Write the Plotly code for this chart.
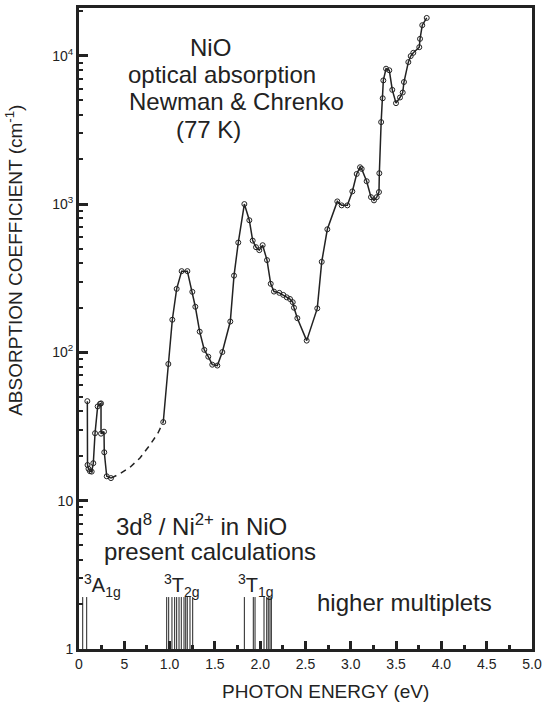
import plotly.graph_objects as go

# ---- data ----
spike_energy = [0.092, 0.094, 0.105, 0.121, 0.140, 0.158, 0.177, 0.206, 0.232, 0.243,
                0.243, 0.276, 0.279, 0.306, 0.353]
spike_alpha = [46.9, 17.4, 16.4, 15.8, 15.7, 17.9, 28.5, 43.2, 45.0, 45.3,
               28.3, 29.2, 21.2, 14.6, 14.2]

dash_energy = [0.353, 0.453, 0.563, 0.673, 0.784, 0.872, 0.930]
dash_alpha = [14.2, 15.2, 16.8, 19.4, 23.8, 28.6, 33.9]

main_energy = [0.930, 0.986, 1.030, 1.078, 1.133, 1.196, 1.251, 1.284, 1.332, 1.383,
               1.427, 1.471, 1.527, 1.582, 1.670, 1.711, 1.758, 1.825, 1.880, 1.917,
               1.954, 1.990, 2.027, 2.075, 2.116, 2.152, 2.211, 2.255, 2.293, 2.329,
               2.359, 2.373, 2.410, 2.513, 2.630, 2.679, 2.741, 2.851, 2.899, 2.962,
               3.017, 3.065, 3.102, 3.120, 3.175, 3.223, 3.256, 3.286, 3.311, 3.315,
               3.335, 3.352, 3.359, 3.389, 3.425, 3.458, 3.499, 3.543, 3.573, 3.587,
               3.635, 3.661, 3.690, 3.756, 3.764, 3.789, 3.838]
main_alpha = [33.9, 83.5, 166, 268, 353, 353, 256, 203, 138, 104,
              93.5, 82.6, 81.5, 100.5, 161.5, 329, 550, 1000, 778, 567,
              512, 489, 528, 419, 290, 257, 252, 244, 235, 229,
              218, 200, 170, 120, 198, 408, 676, 1042, 980, 980,
              1217, 1596, 1771, 1727, 1426, 1114, 1059, 1114, 1205, 1614,
              3570, 5170, 6820, 8180, 7980, 5890, 4790, 5230, 5650, 6650,
              9060, 9950, 10470, 11420, 13000, 16070, 17990]

multiplet_energy = [0.041, 0.085,
                    0.968, 0.990, 1.026, 1.056, 1.078, 1.104, 1.129, 1.159, 1.178, 1.195, 1.225, 1.255,
                    1.825, 1.924, 1.943, 2.042, 2.072, 2.089, 2.108, 2.123]
multiplet_top = 2.24

x_tickvals = [0, 0.5, 1.0, 1.5, 2.0, 2.5, 3.0, 3.5, 4.0, 4.5, 5.0]
x_ticktext = ["0", "5", "1.0", "1.5", "2.0", "2.5", "3.0", "3.5", "4.0", "4.5", "5.0"]
x_minor = [0.25, 0.75, 1.25, 1.75, 2.25, 2.75, 3.25, 3.75, 4.25, 4.75]
y_tickvals = [1, 10, 100, 1000, 10000]
y_ticktext = ["1", "10", "10<sup>2</sup>", "10<sup>3</sup>", "10<sup>4</sup>"]
y_minor = [m * 10 ** d for d in range(0, 5) for m in range(2, 10)]

INK = "#222222"
FONT = "Liberation Sans, Arial, sans-serif"

fig = go.Figure()

# multiplet sticks
mx, my = [], []
for e in multiplet_energy:
    mx += [e, e, None]
    my += [1, multiplet_top, None]
fig.add_trace(go.Scatter(x=mx, y=my, mode="lines",
                         line=dict(color=INK, width=1), hoverinfo="skip"))

marker = dict(symbol="circle-open", size=5, color=INK, line=dict(width=1, color=INK))
fig.add_trace(go.Scatter(x=spike_energy, y=spike_alpha, mode="lines+markers",
                         line=dict(color=INK, width=1.5), marker=marker))
fig.add_trace(go.Scatter(x=dash_energy, y=dash_alpha, mode="lines",
                         line=dict(color=INK, width=1.5, dash="6px,5px")))
fig.add_trace(go.Scatter(x=main_energy, y=main_alpha, mode="lines+markers",
                         line=dict(color=INK, width=1.5), marker=marker))

def note(text, xe, ylog, size=24):
    fig.add_annotation(x=xe, y=ylog, xref="x", yref="y", text=text, showarrow=False,
                       font=dict(family=FONT, size=size, color=INK),
                       xanchor="center", yanchor="middle")

# px -> data helpers are only for placing labels
def ex(px):
    return (px - 79) / 90.6

def ly(py):
    return (649 - py) / 149

note("NiO", ex(210), ly(45))
note("optical absorption", ex(222), ly(72))
note("Newman &amp; Chrenko", ex(236), ly(99))
note("(77 K)", ex(208), ly(127))
note("3d<sup>8</sup> / Ni<sup>2+</sup> in NiO", ex(201), ly(524))
note("present calculations", ex(210), ly(551))
note("<sup>3</sup>A<sub>1g</sub>", ex(102), ly(585), size=20)
note("<sup>3</sup>T<sub>2g</sub>", ex(182), ly(585), size=20)
note("<sup>3</sup>T<sub>1g</sub>", ex(256), ly(585), size=20)
note("higher multiplets", ex(404), ly(602))

# axis titles
fig.add_annotation(x=(325 - 79) / 453, y=(649 - 692) / 644, xref="paper", yref="paper",
                   text="PHOTON ENERGY (eV)", showarrow=False,
                   font=dict(family=FONT, size=19, color=INK), xanchor="center", yanchor="middle")
fig.add_annotation(x=(14 - 79) / 453, y=(649 - 259) / 644, xref="paper", yref="paper",
                   text="ABSORPTION COEFFICIENT (cm<sup>-1</sup>)", showarrow=False, textangle=-90,
                   font=dict(family=FONT, size=19, color=INK), xanchor="center", yanchor="middle")

fig.update_layout(
    width=547, height=706,
    margin=dict(l=79, r=15, t=5, b=57),
    paper_bgcolor="white", plot_bgcolor="white",
    showlegend=False,
    font=dict(family=FONT, size=14, color=INK),
    xaxis=dict(range=[0, 5.0], showgrid=False, zeroline=False,
               showline=True, linewidth=3, linecolor=INK, mirror=True,
               ticks="inside", ticklen=8, tickwidth=3, tickcolor=INK,
               tickvals=x_tickvals, ticktext=x_ticktext,
               tickfont=dict(family=FONT, size=14, color=INK),
               minor=dict(tickvals=x_minor, ticks="inside", ticklen=4, tickwidth=3, tickcolor=INK)),
    yaxis=dict(type="log", range=[0, 4.322], showgrid=False, zeroline=False,
               showline=True, linewidth=3, linecolor=INK, mirror=True,
               ticks="inside", ticklen=9, tickwidth=3, tickcolor=INK,
               tickvals=y_tickvals, ticktext=y_ticktext,
               tickfont=dict(family=FONT, size=14, color=INK),
               minor=dict(tickvals=y_minor, ticks="inside", ticklen=4, tickwidth=2, tickcolor=INK)),
)

fig.write_html("out.html", config={"displayModeBar": False},
               post_script="document.body.style.margin='0';")
